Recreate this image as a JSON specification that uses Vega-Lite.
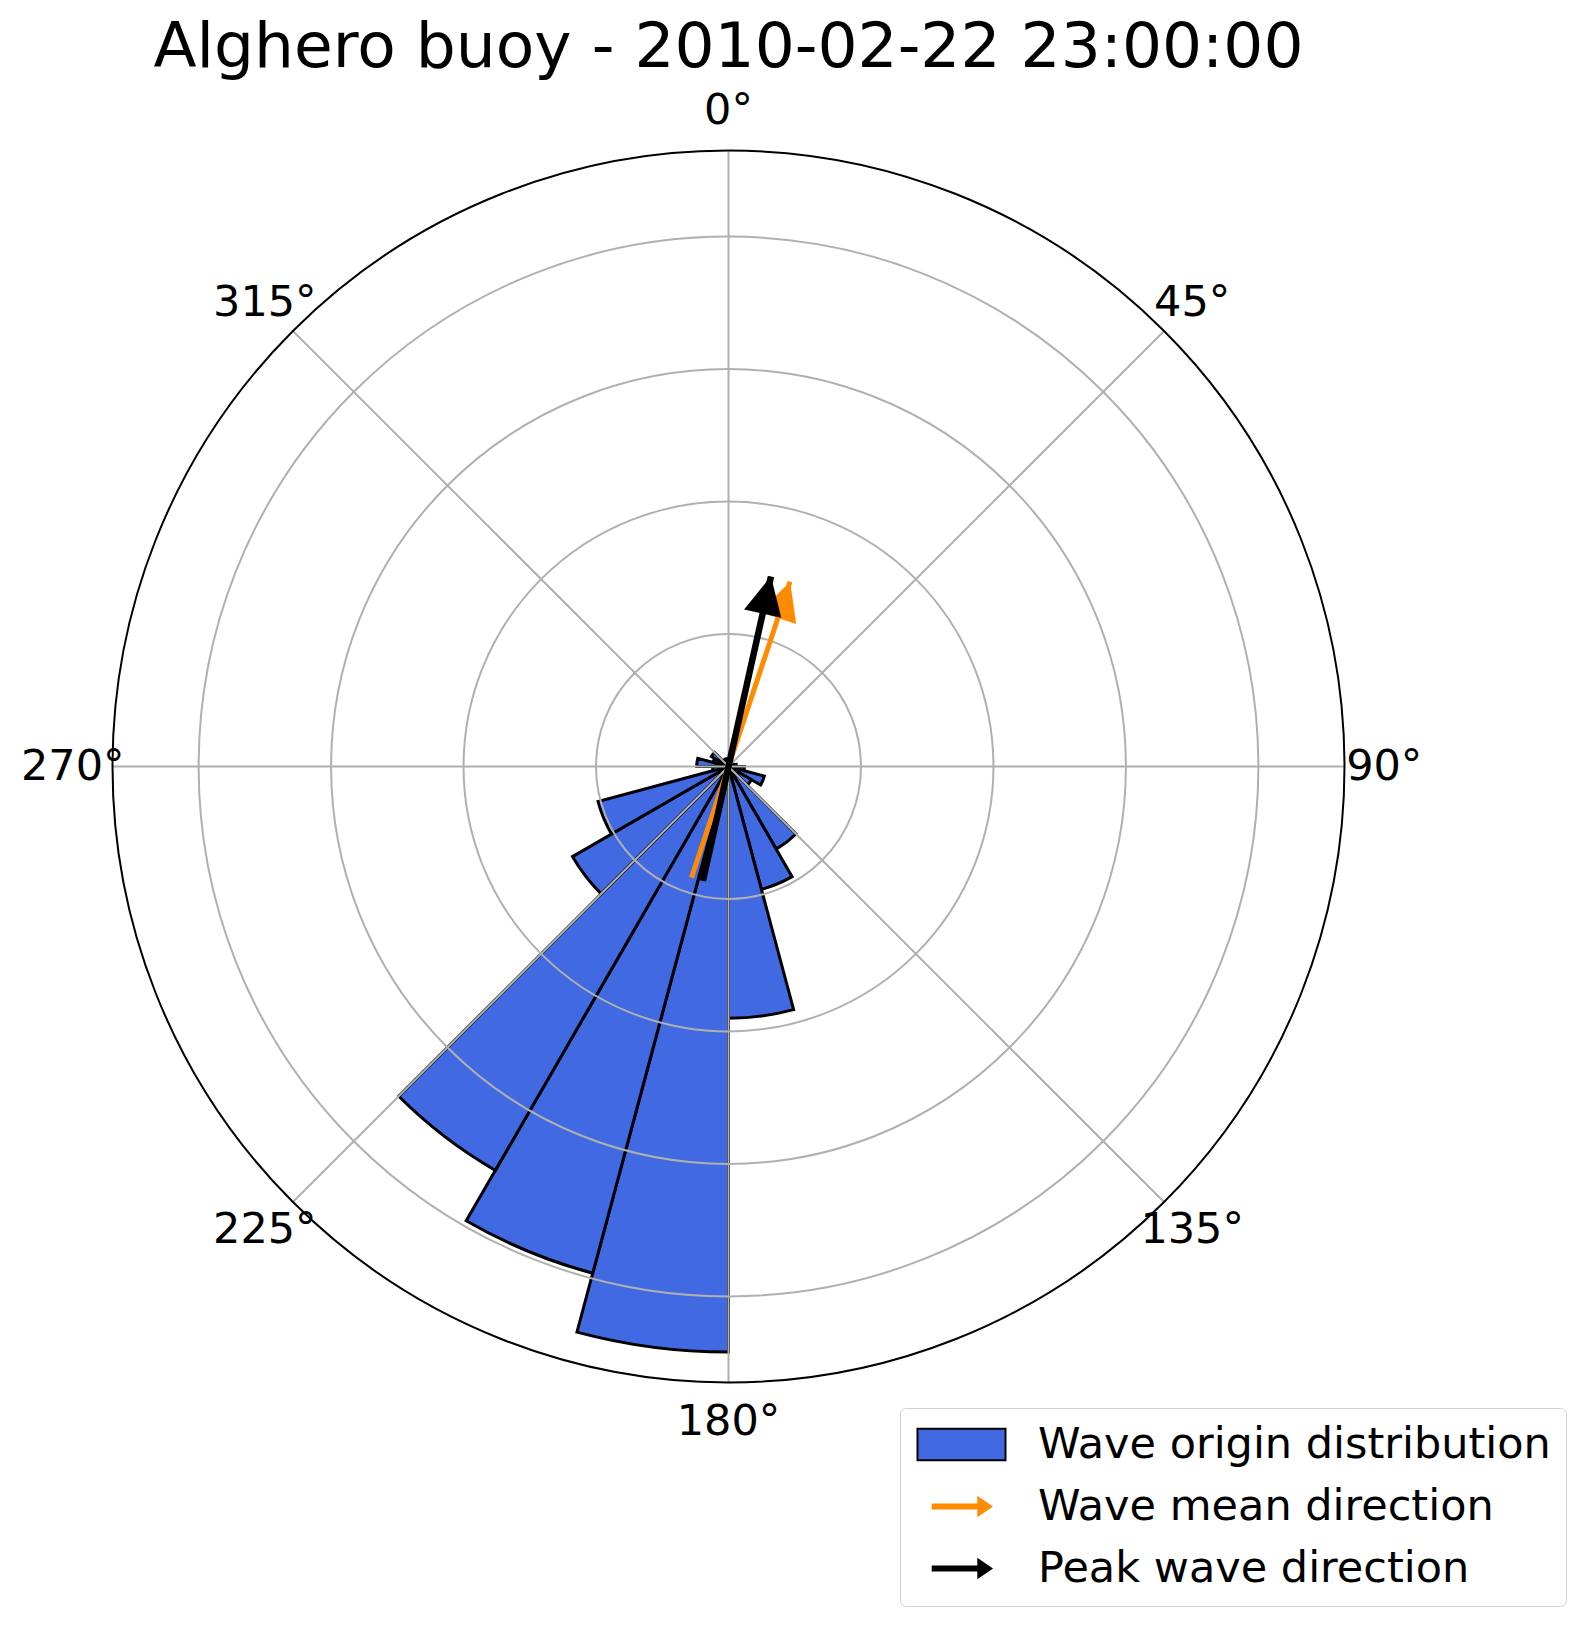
{
  "$schema": "https://vega.github.io/schema/vega-lite/v6.json",
  "width": 1320,
  "height": 1320,
  "autosize": "none",
  "padding": {"left": 68.5, "top": 106.5, "right": 201.5, "bottom": 214.5},
  "background": "white",
  "config": {"view": {"stroke": null}, "font": "DejaVu Sans"},
  "title": {
    "text": "Alghero buoy - 2010-02-22 23:00:00",
    "fontSize": 63, "fontWeight": "normal", "font": "DejaVu Sans", "color": "black",
    "anchor": "middle", "frame": "group", "baseline": "alphabetic", "offset": 18, "dy": 58.5
  },
  "datasets": {
    "bars": [
      {"start": 0, "end": 15, "r": 0.06},
      {"start": 15, "end": 30, "r": 0.05},
      {"start": 30, "end": 45, "r": 0.04},
      {"start": 45, "end": 60, "r": 0.03},
      {"start": 60, "end": 75, "r": 0.04},
      {"start": 75, "end": 90, "r": 0.06},
      {"start": 90, "end": 105, "r": 0.12},
      {"start": 105, "end": 120, "r": 0.28},
      {"start": 120, "end": 135, "r": 0.2},
      {"start": 135, "end": 150, "r": 0.72},
      {"start": 150, "end": 165, "r": 0.96},
      {"start": 165, "end": 180, "r": 1.9},
      {"start": 180, "end": 195, "r": 4.42},
      {"start": 195, "end": 210, "r": 3.96},
      {"start": 210, "end": 225, "r": 3.52},
      {"start": 225, "end": 240, "r": 1.36},
      {"start": 240, "end": 255, "r": 1.02},
      {"start": 255, "end": 270, "r": 0.12},
      {"start": 270, "end": 285, "r": 0.24},
      {"start": 285, "end": 300, "r": 0.12},
      {"start": 300, "end": 315, "r": 0.15},
      {"start": 315, "end": 330, "r": 0.06},
      {"start": 330, "end": 345, "r": 0.05},
      {"start": 345, "end": 360, "r": 0.06}
    ],
    "rings": [{"r": 1}, {"r": 2}, {"r": 3}, {"r": 4}],
    "frame": [{"r": 4.65}],
    "spokes": [
      {"angle": 0, "r": 4.65}, {"angle": 45, "r": 4.65}, {"angle": 90, "r": 4.65}, {"angle": 135, "r": 4.65},
      {"angle": 180, "r": 4.65}, {"angle": 225, "r": 4.65}, {"angle": 270, "r": 4.65}, {"angle": 315, "r": 4.65}
    ],
    "ticks": [
      {"angle": 0, "label": "0°"}, {"angle": 45, "label": "45°"}, {"angle": 90, "label": "90°"},
      {"angle": 135, "label": "135°"}, {"angle": 180, "label": "180°"}, {"angle": 225, "label": "225°"},
      {"angle": 270, "label": "270°"}, {"angle": 315, "label": "315°"}
    ],
    "arrows": [
      {"series": "Wave mean direction", "direction": 18.4, "length": 1.47, "tail": -0.885},
      {"series": "Peak wave direction", "direction": 12.6, "length": 1.47, "tail": -0.885}
    ],
    "legend": [
      {"series": "Wave origin distribution"},
      {"series": "Wave mean direction"},
      {"series": "Peak wave direction"}
    ]
  },
  "layer": [
    {
      "data": {"name": "bars"},
      "mark": {"type": "arc", "fill": "#4169E1", "stroke": "black", "strokeWidth": 3, "strokeJoin": "miter"},
      "encoding": {
        "theta": {"field": "start", "type": "quantitative", "stack": null,
                  "scale": {"type": "linear", "domain": [0, 360], "range": [0, 6.283185307179586]}},
        "theta2": {"field": "end"},
        "radius": {"field": "r", "type": "quantitative", "stack": null,
                   "scale": {"type": "linear", "domain": [0, 4.65], "range": [0, 616], "zero": true}}
      }
    },
    {
      "data": {"name": "rings"},
      "mark": {"type": "arc", "filled": false, "stroke": "#b0b0b0", "strokeWidth": 2, "theta": 0, "theta2": 6.2832},
      "encoding": {"radius": {"field": "r", "type": "quantitative", "stack": null,
                   "scale": {"type": "linear", "domain": [0, 4.65], "range": [0, 616], "zero": true}}}
    },
    {
      "data": {"name": "spokes"},
      "mark": {"type": "arc", "filled": false, "stroke": "#b0b0b0", "strokeWidth": 2},
      "encoding": {
        "theta": {"field": "angle", "type": "quantitative", "stack": null,
                  "scale": {"type": "linear", "domain": [0, 360], "range": [0, 6.283185307179586]}},
        "theta2": {"field": "angle"},
        "radius": {"field": "r", "type": "quantitative", "stack": null,
                   "scale": {"type": "linear", "domain": [0, 4.65], "range": [0, 616], "zero": true}}
      }
    },
    {
      "data": {"name": "frame"},
      "mark": {"type": "arc", "filled": false, "stroke": "black", "strokeWidth": 2, "theta": 0, "theta2": 6.2832},
      "encoding": {"radius": {"field": "r", "type": "quantitative", "stack": null,
                   "scale": {"type": "linear", "domain": [0, 4.65], "range": [0, 616], "zero": true}}}
    },
    {
      "data": {"name": "ticks"},
      "mark": {"type": "text", "fontSize": 43, "font": "DejaVu Sans", "color": "black", "align": "center", "baseline": "middle"},
      "encoding": {
        "theta": {"field": "angle", "type": "quantitative", "stack": null,
                  "scale": {"type": "linear", "domain": [0, 360], "range": [0, 6.283185307179586]}},
        "radius": {"datum": 4.95, "type": "quantitative",
                   "scale": {"type": "linear", "domain": [0, 4.65], "range": [0, 616], "zero": true}},
        "text": {"field": "label"}
      }
    },
    {
      "data": {"name": "arrows"},
      "transform": [{"filter": "datum.series === 'Wave mean direction'"}],
      "mark": {"type": "arc", "filled": false, "stroke": "#FF8C00", "strokeWidth": 5},
      "encoding": {
        "theta": {"field": "direction", "type": "quantitative", "stack": null,
                  "scale": {"type": "linear", "domain": [0, 360], "range": [0, 6.283185307179586]}},
        "theta2": {"field": "direction"},
        "radius": {"field": "length", "type": "quantitative", "stack": null,
                   "scale": {"type": "linear", "domain": [0, 4.65], "range": [0, 616], "zero": true}},
        "radius2": {"field": "tail"}
      }
    },
    {
      "data": {"name": "arrows"},
      "transform": [{"filter": "datum.series === 'Wave mean direction'"}],
      "mark": {"type": "text", "text": "▲", "fontSize": 50, "font": "DejaVu Sans", "color": "#FF8C00", "align": "center", "baseline": "top", "dy": -8},
      "encoding": {
        "theta": {"field": "direction", "type": "quantitative", "stack": null,
                  "scale": {"type": "linear", "domain": [0, 360], "range": [0, 6.283185307179586]}},
        "radius": {"field": "length", "type": "quantitative",
                   "scale": {"type": "linear", "domain": [0, 4.65], "range": [0, 616], "zero": true}},
        "angle": {"field": "direction", "type": "quantitative", "scale": null}
      }
    },
    {
      "data": {"name": "arrows"},
      "transform": [{"filter": "datum.series === 'Peak wave direction'"}],
      "mark": {"type": "arc", "filled": false, "stroke": "black", "strokeWidth": 6.5},
      "encoding": {
        "theta": {"field": "direction", "type": "quantitative", "stack": null,
                  "scale": {"type": "linear", "domain": [0, 360], "range": [0, 6.283185307179586]}},
        "theta2": {"field": "direction"},
        "radius": {"field": "length", "type": "quantitative", "stack": null,
                   "scale": {"type": "linear", "domain": [0, 4.65], "range": [0, 616], "zero": true}},
        "radius2": {"field": "tail"}
      }
    },
    {
      "data": {"name": "arrows"},
      "transform": [{"filter": "datum.series === 'Peak wave direction'"}],
      "mark": {"type": "text", "text": "▲", "fontSize": 50, "font": "DejaVu Sans", "color": "black", "align": "center", "baseline": "top", "dy": -8},
      "encoding": {
        "theta": {"field": "direction", "type": "quantitative", "stack": null,
                  "scale": {"type": "linear", "domain": [0, 360], "range": [0, 6.283185307179586]}},
        "radius": {"field": "length", "type": "quantitative",
                   "scale": {"type": "linear", "domain": [0, 4.65], "range": [0, 616], "zero": true}},
        "angle": {"field": "direction", "type": "quantitative", "scale": null}
      }
    },
    {
      "data": {"name": "legend"},
      "mark": {"type": "point", "filled": true, "opacity": 0, "strokeWidth": 2},
      "encoding": {
        "fill": {"field": "series", "type": "nominal", "sort": null,
                 "scale": {"domain": ["Wave origin distribution", "Wave mean direction", "Peak wave direction"],
                           "range": ["#4169E1", "#FF8C00", "black"]},
                 "legend": {"title": null, "orient": "none", "legendX": 831.5, "legendY": 1301.5,
                            "symbolSize": 1024, "symbolOpacity": 1, "symbolStrokeWidth": 2, "symbolOffset": 25,
                            "labelFont": "DejaVu Sans", "labelFontSize": 43, "labelColor": "black",
                            "labelOffset": 55, "rowPadding": 18, "padding": 15, "labelLimit": 0,
                            "strokeColor": "#d0d0d0", "fillColor": "white", "cornerRadius": 6}},
        "stroke": {"field": "series", "type": "nominal", "sort": null,
                   "scale": {"domain": ["Wave origin distribution", "Wave mean direction", "Peak wave direction"],
                             "range": ["black", "#FF8C00", "black"]},
                   "legend": {"title": null, "orient": "none", "legendX": 831.5, "legendY": 1301.5,
                              "symbolSize": 1024, "symbolOpacity": 1, "symbolStrokeWidth": 2, "symbolOffset": 25,
                              "labelFont": "DejaVu Sans", "labelFontSize": 43, "labelColor": "black",
                              "labelOffset": 55, "rowPadding": 18, "padding": 15, "labelLimit": 0,
                              "strokeColor": "#d0d0d0", "fillColor": "white", "cornerRadius": 6}},
        "shape": {"field": "series", "type": "nominal", "sort": null,
                  "scale": {"domain": ["Wave origin distribution", "Wave mean direction", "Peak wave direction"],
                            "range": ["M-2.75,-0.99L2.75,-0.99L2.75,0.99L-2.75,0.99Z",
                                      "M-1.8,-0.13L1.05,-0.13L1.05,-0.55L1.86,0L1.05,0.55L1.05,0.13L-1.8,0.13Z",
                                      "M-1.8,-0.13L1.05,-0.13L1.05,-0.55L1.86,0L1.05,0.55L1.05,0.13L-1.8,0.13Z"]},
                  "legend": {"title": null, "orient": "none", "legendX": 831.5, "legendY": 1301.5,
                             "symbolSize": 1024, "symbolOpacity": 1, "symbolStrokeWidth": 2, "symbolOffset": 25,
                             "labelFont": "DejaVu Sans", "labelFontSize": 43, "labelColor": "black",
                             "labelOffset": 55, "rowPadding": 18, "padding": 15, "labelLimit": 0,
                             "strokeColor": "#d0d0d0", "fillColor": "white", "cornerRadius": 6}}
      }
    }
  ]
}
